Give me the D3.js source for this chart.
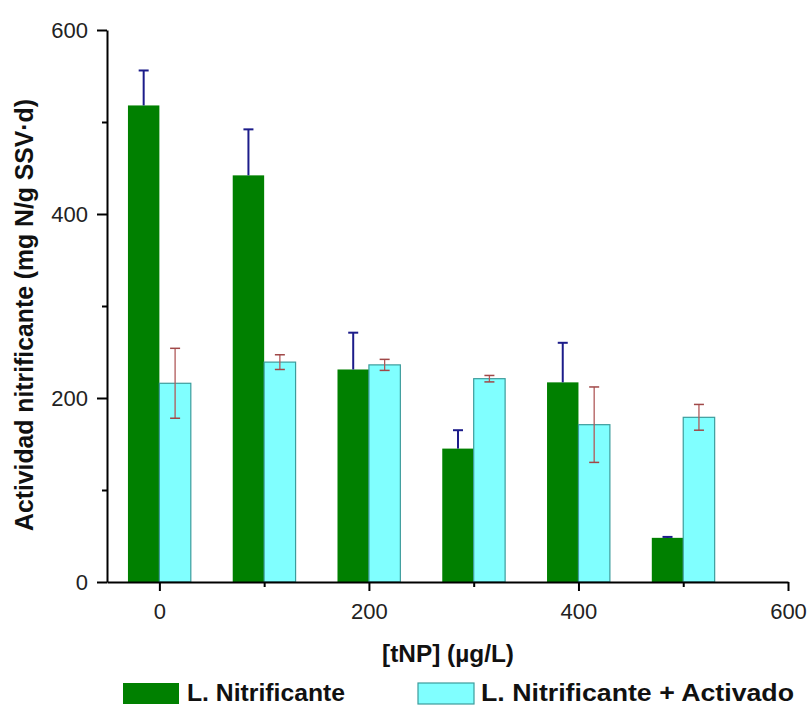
<!DOCTYPE html>
<html><head><meta charset="utf-8">
<script src="https://cdn.jsdelivr.net/npm/d3@7"></script>
<style>body{margin:0;background:#fff}svg text{font-family:Arial,"Liberation Sans",sans-serif}</style>
</head><body><svg id="c" width="809" height="707"></svg>
<script>
const categories = [0, 100, 200, 300, 400, 500];
const nitrificante = [518, 442, 231, 145, 217, 48];
const nitrificanteErr = [38, 50, 40, 20, 43, 1];
const activado = [216, 239, 236, 221, 171, 179];
const activadoErr = [38, 8, 6, 3.5, 41, 14];
const xTicks = [0, 200, 400, 600];
const yTicks = [0, 200, 400, 600];
const seriesNames = ["L. Nitrificante", "L. Nitrificante + Activado"];

const svg = d3.select("#c");
const x = d3.scaleLinear().domain([-50, 600]).range([107, 788]);
const y = d3.scaleLinear().domain([0, 600]).range([582, 30]);
const bw = 30;
const green = "#008000", cyan = "#80ffff", cyanStroke = "#3d9c9c";

const g = svg.append("g");
categories.forEach((c, i) => {
  g.append("rect").attr("x", x(c - bw)).attr("width", x(c) - x(c - bw))
    .attr("y", y(nitrificante[i])).attr("height", y(0) - y(nitrificante[i]))
    .attr("fill", green);
  g.append("rect").attr("x", x(c)).attr("width", x(c + bw) - x(c))
    .attr("y", y(activado[i])).attr("height", y(0) - y(activado[i]))
    .attr("fill", cyan).attr("stroke", cyanStroke).attr("stroke-width", 1.2);
});
categories.forEach((c, i) => {
  const cx = x(c - bw / 2);
  const t = y(nitrificante[i] + nitrificanteErr[i]);
  g.append("line").attr("x1", cx).attr("x2", cx).attr("y1", y(nitrificante[i])).attr("y2", t)
    .attr("stroke", "#1c1c8a").attr("stroke-width", 2);
  g.append("line").attr("x1", cx - 5).attr("x2", cx + 5).attr("y1", t).attr("y2", t)
    .attr("stroke", "#1c1c8a").attr("stroke-width", 2);
  const ax = x(c + bw / 2);
  const t2 = y(activado[i] + activadoErr[i]), b2 = y(activado[i] - activadoErr[i]);
  g.append("line").attr("x1", ax).attr("x2", ax).attr("y1", b2).attr("y2", t2)
    .attr("stroke", "#b05a5a").attr("stroke-width", 1.3);
  [t2, b2].forEach(v => g.append("line").attr("x1", ax - 5).attr("x2", ax + 5).attr("y1", v).attr("y2", v)
    .attr("stroke", "#a04848").attr("stroke-width", 1.5));
});

// axes
svg.append("g").attr("transform", `translate(${x(-50)},0)`)
  .call(d3.axisLeft(y).tickValues(yTicks).tickSize(10).tickPadding(9).tickSizeOuter(0).tickFormat(d3.format("d")));
const yMinor = svg.append("g").attr("transform", `translate(${x(-50)},0)`)
  .call(d3.axisLeft(y).tickValues([100, 300, 500]).tickSize(5).tickFormat(""));
yMinor.select(".domain").remove();
svg.append("g").attr("transform", `translate(0,${y(0)})`)
  .call(d3.axisBottom(x).tickValues(xTicks).tickSize(9).tickPadding(12).tickSizeOuter(0).tickFormat(d3.format("d")));
const xMinor = svg.append("g").attr("transform", `translate(0,${y(0)})`)
  .call(d3.axisBottom(x).tickValues([100, 300, 500]).tickSize(5).tickFormat(""));
xMinor.select(".domain").remove();
svg.selectAll(".domain").attr("stroke", "#000").attr("stroke-width", 2);
svg.selectAll(".tick line").attr("stroke", "#000").attr("stroke-width", 2);
svg.selectAll(".tick text").attr("font-size", 22).attr("fill", "#222");

// titles
svg.append("text").attr("transform", `translate(33,315) rotate(-90)`).attr("text-anchor", "middle")
  .attr("font-size", 25).attr("font-weight", "bold").attr("fill", "#111")
  .attr("textLength", 432).attr("lengthAdjust", "spacingAndGlyphs")
  .text("Actividad nitrificante (mg N/g SSV·d)");
svg.append("text").attr("x", 448).attr("y", 662).attr("text-anchor", "middle")
  .attr("font-size", 24).attr("font-weight", "bold").attr("fill", "#111")
  .attr("textLength", 132).attr("lengthAdjust", "spacingAndGlyphs")
  .text("[tNP] (µg/L)");

// legend
const leg = [{x: 123, fill: green, stroke: "none", tx: 187, tl: 158},
             {x: 418, fill: cyan, stroke: cyanStroke, tx: 481, tl: 313}];
leg.forEach((l, i) => {
  svg.append("rect").attr("x", l.x).attr("y", 683).attr("width", 56).attr("height", 21)
    .attr("fill", l.fill).attr("stroke", l.stroke).attr("stroke-width", 1.2);
  svg.append("text").attr("x", l.tx).attr("y", 701).attr("font-size", 23).attr("font-weight", "bold")
    .attr("fill", "#111").attr("textLength", l.tl).attr("lengthAdjust", "spacingAndGlyphs")
    .text(seriesNames[i]);
});
</script></body></html>
